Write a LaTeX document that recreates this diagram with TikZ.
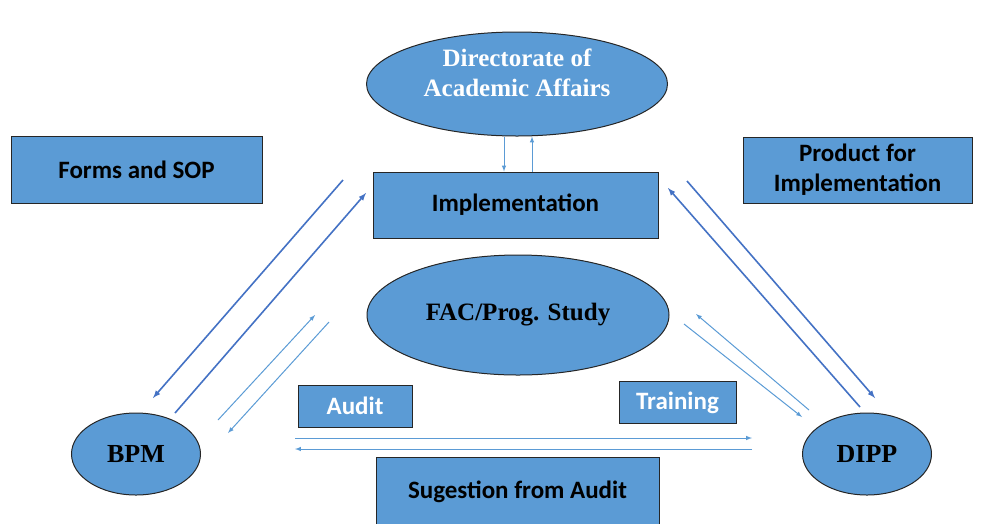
\documentclass[tikz,border=0pt]{standalone}
\usepackage{fontspec}
\setmainfont{Liberation Serif}
\newfontfamily\calibri{Carlito}
\usetikzlibrary{shapes.geometric}
\definecolor{fillblue}{RGB}{91,155,213}
\definecolor{darkarrow}{RGB}{68,114,196}
\definecolor{lightarrow}{RGB}{91,155,213}
\tikzset{
	box/.style = {draw=black!85, line width=1pt, fill=fillblue, inner sep=0pt, align=center,
		font=\calibri\bfseries\fontsize{25}{30}\selectfont},
	oval/.style = {ellipse, draw=black!85, line width=1pt, fill=fillblue, inner sep=0pt, align=center,
		font=\bfseries\fontsize{25}{30}\selectfont},
	mainarrow/.style = {-latex, draw=darkarrow, line width=1.6pt},
	subarrow/.style = {-latex, draw=lightarrow, line width=1pt}
}

\begin{document}
\begin{tikzpicture}[x=1pt, y=-1pt]
	\useasboundingbox (0,0) rectangle (981,523);
	% top
	\node[oval, text=white, text depth=22pt, minimum width=301pt, minimum height=104pt] (daa) at (517,84) {Directorate of\\Academic Affairs};
	\node[box, minimum width=285pt, minimum height=66pt] (impl) at (515.5,205) {Implementation};
	\node[oval, minimum width=302pt, minimum height=120pt] (fac) at (518,315) {FAC/Prog. Study};
	\node[box, minimum width=251pt, minimum height=67pt] (forms) at (136.5,170) {Forms and SOP};
	\node[box, minimum width=229pt, minimum height=66pt] (product) at (857.5,170) {Product for\\Implementation};
	% bottom
	\node[oval, font=\bfseries\fontsize{26}{30}\selectfont, minimum width=129pt, minimum height=82pt] (bpm) at (136,454) {BPM};
	\node[oval, font=\bfseries\fontsize{26}{30}\selectfont, minimum width=129pt, minimum height=82pt] (dipp) at (867,454) {DIPP};
	\node[box, text=white, minimum width=114pt, minimum height=42pt] (audit) at (355,406) {Audit};
	\node[box, text=white, minimum width=117pt, minimum height=42pt] (training) at (677.5,402.5) {Training};
	\node[box, minimum width=283pt, minimum height=70pt] (sugestion) at (517.5,492) {Sugestion from Audit};

	% directorate <-> implementation
	\draw[subarrow] ([xshift=-13pt]daa.south) -- ([xshift=-13pt]daa.south |- impl.north);
	\draw[subarrow] ([xshift=15pt]daa.south |- impl.north) -- ([xshift=15pt]daa.south);

	% free ends of the slanted connectors
	\coordinate (implbpm1) at (343,180);  \coordinate (bpmimpl1) at (153,398);
	\coordinate (bpmimpl2) at (175,413);  \coordinate (implbpm2) at (366,193);
	\coordinate (bpmfac1) at (218,420);   \coordinate (facbpm1) at (315,315);
	\coordinate (facbpm2) at (329,322);   \coordinate (bpmfac2) at (228,433);
	\coordinate (impldipp1) at (687,181); \coordinate (dippimpl1) at (875,398);
	\coordinate (dippimpl2) at (860,407); \coordinate (impldipp2) at (668,188);
	\coordinate (dippfac1) at (809,410);  \coordinate (facdipp1) at (696,314);
	\coordinate (facdipp2) at (684,324);  \coordinate (dippfac2) at (802,417);
	\coordinate (bpmdipp1) at (295,438);  \coordinate (dippbpm1) at (752,438);
	\coordinate (dippbpm2) at (752,449);  \coordinate (bpmdipp2) at (295,449);

	\draw[mainarrow] (implbpm1) -- (bpmimpl1);
	\draw[mainarrow] (bpmimpl2) -- (implbpm2);
	\draw[subarrow] (bpmfac1) -- (facbpm1);
	\draw[subarrow] (facbpm2) -- (bpmfac2);
	\draw[mainarrow] (impldipp1) -- (dippimpl1);
	\draw[mainarrow] (dippimpl2) -- (impldipp2);
	\draw[subarrow] (dippfac1) -- (facdipp1);
	\draw[subarrow] (facdipp2) -- (dippfac2);
	\draw[subarrow] (bpmdipp1) -- (dippbpm1);
	\draw[subarrow] (dippbpm2) -- (bpmdipp2);
\end{tikzpicture}
\end{document}
